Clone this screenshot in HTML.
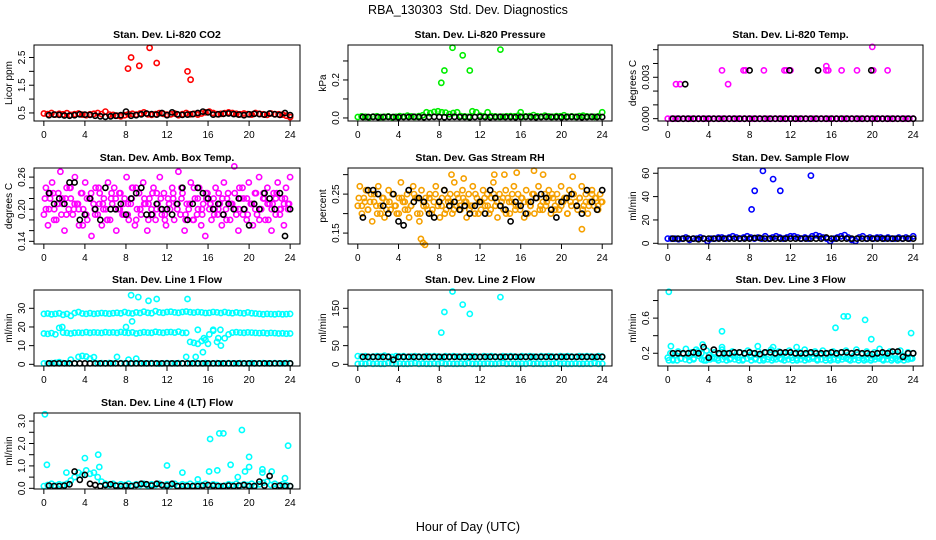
<!DOCTYPE html>
<html><head><meta charset="utf-8">
<style>
html,body{margin:0;padding:0;background:#fff;}
svg{display:block;font-family:"Liberation Sans",Arial,sans-serif;}
</style></head>
<body>
<svg id="chart" width="936" height="540" viewBox="0 0 936 540" xmlns="http://www.w3.org/2000/svg">
<rect x="0" y="0" width="936" height="540" fill="#fff"/>
<text x="468" y="14" font-size="12.5" text-anchor="middle">RBA_130303&#160; Std. Dev. Diagnostics</text>
<text x="468" y="531" font-size="12.5" text-anchor="middle">Hour of Day (UTC)</text>
</svg>
<script>
// ---------- data ----------
const xTicks = [0,4,8,12,16,20,24];

const co2Red = [0.48,0.46,0.5,0.44,0.47,0.45,0.49,0.43,0.46,0.48,0.44,0.42,0.45,0.47,0.5,0.46,0.55,0.44,0.43,0.4,0.38,0.42,0.45,0.47,0.44,0.48,0.52,0.45,0.43,0.46,0.49,0.47,0.44,0.45,0.48,0.42,0.46,0.5,0.45,0.47,0.44,0.48,0.52,0.55,0.5,0.46,0.47,0.49,0.52,0.5,0.47,0.45,0.48,0.46,0.44,0.5,0.47,0.45,0.43,0.48,0.46,0.45,0.44,0.4,0.35];
const co2RedOutX = [8.2,8.5,9.3,10.3,11,14,14.3];
const co2RedOutY = [2.1,2.5,2.2,2.85,2.3,2.0,1.7];
const co2Black = [0.42,0.44,0.43,0.41,0.4,0.42,0.45,0.44,0.43,0.4,0.38,0.36,0.38,0.4,0.42,0.55,0.4,0.42,0.45,0.48,0.46,0.44,0.5,0.42,0.52,0.45,0.43,0.44,0.46,0.5,0.55,0.52,0.44,0.45,0.47,0.48,0.46,0.44,0.42,0.45,0.47,0.46,0.44,0.48,0.45,0.43,0.5,0.42];

const presGreen = [0.005,0.008,0.006,0.004,0.007,0.009,0.005,0.006,0.008,0.004,0.006,0.01,0.007,0.012,0.008,0.006,0.01,0.014,0.03,0.025,0.032,0.035,0.03,0.028,0.02,0.026,0.03,0.01,0.008,0.006,0.035,0.03,0.012,0.009,0.03,0.01,0.008,0.006,0.007,0.009,0.01,0.008,0.012,0.006,0.008,0.01,0.015,0.009,0.007,0.012,0.008,0.006,0.01,0.009,0.014,0.007,0.008,0.006,0.01,0.012,0.008,0.007,0.006,0.009,0.03];
const presOutX = [8.2,8.5,9.3,10.3,11,14,16];
const presOutY = [0.185,0.25,0.37,0.33,0.25,0.36,0.03];
const presBlack = [0.005,0.005,0.006,0.004,0.005,0.006,0.005,0.004,0.005,0.005,0.006,0.005,0.004,0.005,0.006,0.005,0.004,0.005,0.006,0.005,0.005,0.004,0.005,0.006,0.005,0.004,0.005,0.006,0.005,0.005,0.004,0.005,0.006,0.005,0.004,0.005,0.006,0.005,0.005,0.004,0.005,0.006,0.005,0.004,0.005,0.006,0.005,0.005];

const tempMag = [0,0,0,0,0,0,0,0,0,0,0,0,0,0,0,0,0,0,0,0,0,0,0,0,0,0,0,0,0,0,0,0,0,0,0,0,0,0,0,0,0,0,0,0,0,0,0,0,0,0,0,0,0,0,0,0,0,0,0,0,0,0,0,0,0];
const tempOutX = [0.8,1.2,5.3,5.9,7.4,7.6,9.4,11.4,11.6,12,15.5,15.5,15.7,17,18.5,20,20.1,21.5];
const tempOutY = [0.0025,0.0025,0.0035,0.0025,0.0035,0.0035,0.0035,0.0035,0.0035,0.0035,0.0035,0.0038,0.0035,0.0035,0.0035,0.0052,0.0035,0.0035];
const tempBlack = [0,0,0,0,0,0,0,0,0,0,0,0,0,0,0,0,0,0,0,0,0,0,0,0,0,0,0,0,0,0,0,0,0,0,0,0,0,0,0,0,0,0,0,0,0,0,0,0];
const tempBlackOutX = [1.7,8,11.9,14.7,19.9];
const tempBlackOutY = [0.0025,0.0035,0.0035,0.0035,0.0035];

const ambMag = [0.19,0.24,0.17,0.22,0.25,0.2,0.18,0.23,0.27,0.21,0.16,0.24,0.2,0.22,0.19,0.26,0.21,0.17,0.23,0.2,0.25,0.18,0.22,0.15,0.21,0.24,0.19,0.23,0.17,0.22,0.2,0.25,0.18,0.21,0.24,0.16,0.2,0.23,0.19,0.22,0.26,0.18,0.21,0.24,0.17,0.2,0.23,0.19,0.25,0.21,0.16,0.22,0.2,0.24,0.18,0.21,0.26,0.19,0.23,0.17,0.22,0.2,0.24,0.18,0.21,0.27,0.19,0.23,0.16,0.21,0.2,0.25,0.18,0.22,0.19,0.24,0.17,0.21,0.15,0.23,0.2,0.18,0.22,0.24,0.19,0.21,0.17,0.25,0.2,0.23,0.18,0.21,0.28,0.19,0.16,0.22,0.24,0.2,0.18,0.25,0.21,0.17,0.23,0.19,0.26,0.2,0.22,0.18,0.24,0.21,0.16,0.23,0.19,0.25,0.2,0.22,0.17,0.24,0.21,0.26];
const ambMag2 = [0.22,0.2,0.23,0.21,0.19,0.22,0.24,0.2,0.21,0.23,0.19,0.22,0.2,0.24,0.21,0.18,0.22,0.2,0.23,0.21,0.19,0.22,0.24,0.2,0.21,0.18,0.23,0.2,0.22,0.19,0.21,0.23,0.2,0.22,0.18,0.21,0.24,0.2,0.19,0.22,0.21,0.2,0.23,0.19,0.22,0.21,0.2,0.24,0.22,0.19,0.21,0.23,0.2,0.22,0.18,0.21,0.23,0.2,0.22,0.21];
const ambMag3 = [0.2,0.23,0.18,0.21,0.22,0.19,0.24,0.21,0.2,0.17,0.22,0.23,0.19,0.21,0.2,0.18,0.23,0.22,0.2,0.19,0.21,0.24,0.18,0.2,0.22,0.21,0.19,0.23,0.2,0.18,0.21,0.22,0.2,0.24,0.19,0.21,0.18,0.22,0.2,0.23,0.21,0.19,0.2,0.22,0.18,0.21,0.23,0.2,0.19,0.22,0.21,0.2,0.18,0.23,0.21,0.2,0.22,0.19,0.21,0.2];
const ambBlack = [0.23,0.21,0.22,0.21,0.25,0.25,0.18,0.19,0.22,0.2,0.18,0.24,0.2,0.2,0.21,0.19,0.22,0.23,0.24,0.19,0.19,0.21,0.2,0.2,0.19,0.21,0.24,0.18,0.21,0.24,0.23,0.22,0.2,0.21,0.19,0.21,0.2,0.22,0.2,0.17,0.21,0.2,0.23,0.22,0.2,0.23,0.15,0.2];

const rhOr = [0.22,0.27,0.2,0.24,0.26,0.21,0.23,0.18,0.25,0.22,0.27,0.2,0.24,0.19,0.23,0.26,0.21,0.25,0.22,0.2,0.24,0.28,0.23,0.21,0.25,0.19,0.22,0.27,0.24,0.2,0.18,0.26,0.22,0.24,0.21,0.25,0.2,0.23,0.27,0.22,0.19,0.24,0.26,0.21,0.23,0.25,0.2,0.28,0.22,0.24,0.21,0.26,0.23,0.19,0.25,0.22,0.27,0.2,0.24,0.23,0.21,0.26,0.22,0.25,0.2,0.24,0.28,0.22,0.19,0.25,0.23,0.21,0.26,0.24,0.2,0.23,0.27,0.22,0.25,0.21,0.24,0.19,0.26,0.23,0.22,0.25,0.2,0.24,0.27,0.22,0.21,0.25,0.23,0.26,0.2,0.24,0.22,0.25,0.21,0.27,0.23,0.24,0.2,0.26,0.22,0.25,0.23,0.21,0.24,0.27,0.22,0.25,0.2,0.23,0.26,0.22,0.24,0.21,0.25,0.23];
const rhOr2 = [0.24,0.22,0.23,0.21,0.25,0.23,0.2,0.22,0.24,0.21,0.23,0.25,0.22,0.2,0.24,0.23,0.21,0.22,0.25,0.24,0.2,0.23,0.22,0.24,0.21,0.25,0.23,0.22,0.2,0.24,0.23,0.21,0.25,0.22,0.24,0.23,0.21,0.22,0.25,0.2,0.23,0.24,0.22,0.21,0.25,0.23,0.22,0.24,0.2,0.23,0.25,0.21,0.22,0.24,0.23,0.2,0.22,0.25,0.24,0.21,0.23,0.22,0.24,0.25,0.21,0.23,0.22,0.24,0.2,0.23,0.25,0.22,0.24,0.21,0.23,0.22,0.25,0.24,0.22,0.23];
const rhOutX = [6.2,6.4,6.6,9.2,10.4,13.4,14.4,15.6,17.3,18.2,21.1,22];
const rhOutY = [0.135,0.125,0.12,0.3,0.29,0.3,0.3,0.305,0.31,0.3,0.295,0.16];
const rhBlack = [0.19,0.26,0.26,0.25,0.22,0.2,0.25,0.18,0.17,0.26,0.23,0.24,0.23,0.2,0.19,0.23,0.26,0.22,0.23,0.21,0.22,0.2,0.22,0.23,0.2,0.26,0.24,0.22,0.21,0.18,0.23,0.22,0.2,0.23,0.24,0.25,0.24,0.21,0.19,0.23,0.24,0.25,0.22,0.2,0.26,0.23,0.21,0.26];

const sfBlue = [4,4,4,3.5,4,5,3,4,4,5,4,2,4,4,5,5,4,5,6,5,4,5,6,5,4,5,4,6,4,5,6,5,4,5,6,6,5,4,5,4,6,7,6,5,4,2,4,5,6,7,5,3,2,5,6,4,5,4,5,5,4,5,4,4,5,4,5,4,6];
const sfOutX = [8.2,8.5,9.3,10.3,11,14];
const sfOutY = [29,45,62,55,45,58];
const sfBlack = [4,4,4,4,4,3.5,4,4,4,4,4,4,4,4,4,4,4.5,4.5,4,4,4,4,4,4,4,4,4,4,4,4,5,4,4,4,4,4,4,4,4,4,4,4,4,4,4,4,4,4];

const l1Top = [27,27.2,26.8,27,27.3,26.5,27,26,27.5,28,27.2,27,27.4,27,27.2,27.5,27.3,27.1,27.4,27.6,27.3,28,27.5,27.2,27.8,27.5,28.2,27.6,27.4,28.5,27.8,27.6,28,28.2,27.8,27.6,28,28.3,27.9,27.7,28,27.8,27.5,27.6,28,27.8,27.5,28,27.6,27.4,27.8,27.5,27.3,27.8,27.4,27.2,27,26.8,27,26.9,26.8,27,26.8,26.9,27];
const l1Mid = [16.5,16.3,16.7,16,19.5,17,16.8,16.5,16.9,17,16.8,17.2,16.9,17.1,17,16.8,17.2,17,17.1,16.9,17.3,17,16.8,17.1,16.5,16.8,17.2,17,16.9,17.4,17.1,16.9,17.2,17.3,17,17.5,16.8,16.9,12,11.5,11,12.5,13,16,18,12,10,14,16,17,17.2,17,16.9,17.1,17,16.8,16.7,16.9,16.6,16.8,16.7,16.5,16.6,16.4,16.5];
const l1Low = [0.5,0.5,0.6,0.8,1.2,0.6,0.5,2.5,0.6,4,4.5,4.2,3,3.8,0.5,0.6,0.5,0.7,0.5,4,0.6,0.5,2.5,0.5,3,0.6,0.5,0.5,0.6,0.5,0.4,0.5,0.6,0.5,0.5,0.6,0.5,4,0.5,0.6,0.5,0.5,0.6,0.5,0.5,0.6,0.5,0.5,0.6,0.5,0.5,0.6,0.5,0.5,0.6,0.5,0.5,0.6,0.5,0.5,0.6,0.5,0.5,0.6,0.5];
const l1OutX = [8.5,9.2,10.2,11,14,8,8.6,1.8,15,15.5,16,16.5,17,17.2,14.8,15.6];
const l1OutY = [37,36,34,35,35,20,23,20,18.5,6.5,11,18.5,14,18.5,4,14];
const l1Black = [0.5,0.5,0.5,0.5,0.5,0.5,0.5,0.5,0.5,0.5,0.5,0.5,0.5,0.5,0.5,0.5,0.5,0.5,0.5,0.5,0.5,0.5,0.5,0.5,0.5,0.5,0.5,0.5,0.5,0.5,0.5,0.5,0.5,0.5,0.5,0.5,0.5,0.5,0.5,0.5,0.5,0.5,0.5,0.5,0.5,0.5,0.5,0.5];

const l2Low = [1,2,1,3,1,2,1,1,3,2,1,2,1,1,2,3,1,2,1,1,2,1,3,1,2,1,1,2,1,3,1,1,2,1,2,1,1,2,3,1,2,1,1,2,1,3,1,2,1,1,2,1,3,1,2,1,1,2,1,1,2,1,3,1,2];
const l2High = [22,21,22,20,21,22,21,23,21,20,22,21,22,20,21,22,21,20,22,21,22,21,20,22,21,22,21,20,22,21,22,21,20,22,21,22,21,20,22,21,22,21,20,22,21,22,21,20,22,21,22,21,20,22,21,22,21,20,22,21,22,21,20,22,21];
const l2OutX = [8.2,8.5,9.3,10.3,11,14];
const l2OutY = [85,140,195,160,135,180];
const l2Black = [20,20,20,20,20,20,12,20,20,20,20,20,20,20,20,20,20,20,20,20,20,20,20,20,20,20,20,20,20,20,20,20,20,20,20,20,20,20,20,20,20,20,20,20,20,20,20,20];

const l3Cyan = [0.15,0.2,0.12,0.18,0.22,0.14,0.19,0.25,0.16,0.21,0.13,0.24,0.17,0.2,0.12,0.23,0.18,0.15,0.21,0.14,0.19,0.24,0.16,0.2,0.13,0.22,0.17,0.15,0.21,0.12,0.19,0.23,0.16,0.2,0.14,0.22,0.18,0.12,0.21,0.16,0.24,0.14,0.19,0.22,0.13,0.2,0.17,0.23,0.15,0.19,0.12,0.21,0.17,0.24,0.14,0.2,0.16,0.22,0.13,0.19,0.23,0.15,0.2,0.12,0.22,0.18,0.14,0.21,0.16,0.23,0.13,0.2,0.17,0.24,0.15,0.19,0.12,0.22,0.18,0.14,0.21,0.16,0.25,0.13,0.2,0.17,0.22,0.14,0.19,0.12,0.23,0.17,0.15,0.21,0.14,0.2];
const l3Cyan2 = [0.12,0.13,0.12,0.14,0.13,0.12,0.14,0.22,0.13,0.12,0.13,0.14,0.12,0.13,0.12,0.14,0.13,0.12,0.13,0.14,0.12,0.13,0.12,0.14,0.13,0.12,0.13,0.14,0.12,0.13,0.12,0.14,0.13,0.12,0.13,0.14,0.12,0.13,0.12,0.14,0.13,0.12,0.13,0.14,0.12,0.13,0.12,0.14,0.13,0.12,0.13,0.14,0.12,0.13,0.12,0.14,0.13,0.12,0.13,0.14];
const l3OutX = [0.1,0.3,3.4,5.3,5.3,8.8,10.3,12.6,16.4,17.2,17.6,19.3,19.9,23.8];
const l3OutY = [0.9,0.28,0.3,0.45,0.27,0.28,0.27,0.27,0.49,0.62,0.62,0.58,0.36,0.43];
const l3Black = [0.2,0.2,0.2,0.2,0.21,0.2,0.27,0.15,0.24,0.2,0.2,0.2,0.21,0.21,0.2,0.21,0.2,0.19,0.21,0.21,0.2,0.21,0.21,0.21,0.2,0.2,0.2,0.21,0.2,0.2,0.2,0.21,0.2,0.21,0.21,0.2,0.21,0.2,0.2,0.19,0.2,0.21,0.2,0.22,0.22,0.16,0.2,0.2];

const l4Cyan = [0.1,0.15,0.2,0.12,0.18,0.15,0.2,0.35,0.5,0.7,0.6,0.8,0.65,0.7,0.5,0.3,0.2,0.15,0.2,0.12,0.18,0.15,0.2,0.12,0.18,0.15,0.2,0.12,0.18,0.15,0.2,0.12,0.18,0.15,0.2,0.12,0.18,0.15,0.2,0.12,0.18,0.15,0.2,0.12,0.18,0.15,0.1,0.12,0.18,0.15,0.2,0.12,0.18,0.15,0.2,0.12,0.18,0.25,0.3,0.15,0.2,0.12,0.18,0.15,0.1];
const l4OutX = [0.1,0.3,2.2,4,5.3,5.4,12,13.5,15,16.1,16.2,16.9,17.1,17.5,18.2,18.9,19.3,19.6,20,20,21.3,21.3,22.2,23.5,23.8];
const l4OutY = [3.3,1.05,0.7,1.35,1.5,0.95,1.02,0.7,0.4,0.75,2.2,0.8,2.45,2.45,1.05,0.5,2.6,0.75,1.4,0.95,0.85,0.7,0.75,0.45,1.9];
const l4Black = [0.12,0.1,0.1,0.12,0.18,0.75,0.38,0.6,0.2,0.15,0.1,0.15,0.18,0.12,0.1,0.12,0.1,0.15,0.2,0.18,0.12,0.2,0.15,0.12,0.2,0.1,0.1,0.1,0.1,0.1,0.12,0.15,0.12,0.1,0.1,0.12,0.1,0.12,0.15,0.1,0.1,0.3,0.12,0.55,0.1,0.12,0.1,0.1];

// ---------- layout ----------
const colX = [[34,300],[348,612],[658,923]];
const rowY = [45,168,290,413];
const PH = 76;

const NS = "http://www.w3.org/2000/svg";
const svg = document.getElementById('chart');
function mk(tag, attrs, parent){ const e=document.createElementNS(NS,tag); for(const k in attrs) e.setAttribute(k,attrs[k]); (parent||svg).appendChild(e); return e; }

const BLUE="#0000ff", BLACK="#000000";
const panels = [
 {name:"co2", title:"Stan. Dev. Li-820 CO2", ylab:"Licor ppm", c:0,r:0, ylim:[0.21,2.95], ticks:[0.5,1,1.5,2,2.5], labels:[[0.5,"0.5"],[1.5,"1.5"],[2.5,"2.5"]],
  series:[{v:co2Red,col:"#ff0000"},{x:co2RedOutX,v:co2RedOutY,col:"#ff0000"},{v:co2Black,col:BLACK,black:true}]},
 {name:"pressure", title:"Stan. Dev. Li-820 Pressure", ylab:"kPa", c:1,r:0, ylim:[-0.016,0.384], ticks:[0,0.1,0.2,0.3], labels:[[0,"0.0"],[0.2,"0.2"]],
  series:[{v:presGreen,col:"#00ee00"},{x:presOutX,v:presOutY,col:"#00ee00"},{v:presBlack,col:BLACK,black:true}]},
 {name:"li820-temp", title:"Stan. Dev. Li-820 Temp.", ylab:"degrees C", c:2,r:0, ylim:[-0.00017,0.00534], ticks:[0,0.001,0.002,0.003,0.004,0.005], labels:[[0,"0.000"],[0.003,"0.003"]],
  series:[{v:tempMag,col:"#ff00ff"},{x:tempOutX,v:tempOutY,col:"#ff00ff"},{v:tempBlack,col:BLACK,black:true},{x:tempBlackOutX,v:tempBlackOutY,col:BLACK}]},
 {name:"amb-box-temp", title:"Stan. Dev. Amb. Box Temp.", ylab:"degrees C", c:0,r:1, ylim:[0.135,0.277], ticks:[0.14,0.16,0.18,0.2,0.22,0.24,0.26], labels:[[0.14,"0.14"],[0.2,"0.20"],[0.26,"0.26"]],
  series:[{v:ambMag,col:"#ff00ff"},{v:ambMag2,col:"#ff00ff",x0:0.1},{v:ambMag3,col:"#ff00ff",x0:0.2},{v:ambBlack,col:BLACK,black:true}]},
 {name:"gas-rh", title:"Stan. Dev. Gas Stream RH", ylab:"percent", c:1,r:1, ylim:[0.122,0.317], ticks:[0.15,0.2,0.25,0.3], labels:[[0.15,"0.15"],[0.25,"0.25"]],
  series:[{v:rhOr,col:"#f5a000"},{v:rhOr2,col:"#f5a000",x0:0.1},{x:rhOutX,v:rhOutY,col:"#f5a000"},{v:rhBlack,col:BLACK,black:true}]},
 {name:"sample-flow", title:"Stan. Dev. Sample Flow", ylab:"ml/min", c:2,r:1, ylim:[-0.6,64.5], ticks:[0,20,40,60], labels:[[0,"0"],[20,"20"],[40,"40"],[60,"60"]],
  series:[{v:sfBlue,col:BLUE},{x:sfOutX,v:sfOutY,col:BLUE},{v:sfBlack,col:BLACK,black:true}]},
 {name:"line1-flow", title:"Stan. Dev. Line 1 Flow", ylab:"ml/min", c:0,r:2, ylim:[-0.9,39.8], ticks:[0,10,20,30], labels:[[0,"0"],[10,"10"],[20,"20"],[30,"30"]],
  series:[{v:l1Top,col:"#00ffff"},{v:l1Mid,col:"#00ffff"},{v:l1Low,col:"#00ffff"},{x:l1OutX,v:l1OutY,col:"#00ffff"},{v:l1Black,col:BLACK,black:true}]},
 {name:"line2-flow", title:"Stan. Dev. Line 2 Flow", ylab:"ml/min", c:1,r:2, ylim:[-4.5,199], ticks:[0,50,100,150], labels:[[0,"0"],[50,"50"],[150,"150"]],
  series:[{v:l2Low,col:"#00ffff"},{v:l2High,col:"#00ffff"},{x:l2OutX,v:l2OutY,col:"#00ffff"},{v:l2Black,col:BLACK,black:true}]},
 {name:"line3-flow", title:"Stan. Dev. Line 3 Flow", ylab:"ml/min", c:2,r:2, ylim:[0.055,0.92], ticks:[0.2,0.4,0.6,0.8], labels:[[0.2,"0.2"],[0.6,"0.6"]],
  series:[{v:l3Cyan,col:"#00ffff"},{v:l3Cyan2,col:"#00ffff",x0:0.1},{x:l3OutX,v:l3OutY,col:"#00ffff"},{v:l3Black,col:BLACK,black:true}]},
 {name:"line4-flow", title:"Stan. Dev. Line 4 (LT) Flow", ylab:"ml/min", c:0,r:3, ylim:[-0.03,3.36], ticks:[0,0.5,1,1.5,2,2.5,3], labels:[[0,"0.0"],[1,"1.0"],[2,"2.0"],[3,"3.0"]],
  series:[{v:l4Cyan,col:"#00ffff"},{x:l4OutX,v:l4OutY,col:"#00ffff"},{v:l4Black,col:BLACK,black:true}]}
];

panels.forEach(p=>{
  const L=colX[p.c][0], R=colX[p.c][1], T=rowY[p.r], B=T+PH;
  const xs = h => L + (h+0.96)/25.92*(R-L);
  const ys = v => B - (v-p.ylim[0])/(p.ylim[1]-p.ylim[0])*(B-T);
  const g = mk('g',{});
  
  
  const t = mk('text',{x:(L+R)/2,y:T-7,'font-size':10.5,'font-weight':'bold','text-anchor':'middle'},g);
  t.textContent=p.title;
  
  
  const pg = mk('g',{fill:'none','stroke-width':1.6},g);
  
  
  p.series.forEach(s=>{
    const n=s.v.length;
    const a = s.black?0.5:(s.x0||0), b = s.black?24:(s.x0?24-s.x0:24);
    s.v.forEach((v,i)=>{
      const h = s.x ? s.x[i] : a + i*(b-a)/(n-1);
      const c = mk('circle',{cx:xs(h).toFixed(1),cy:ys(v).toFixed(1),r:2.6,stroke:s.col},pg);
      
      
    });
  });
  const bx = mk('rect',{x:L,y:T,width:R-L,height:B-T,fill:'none',stroke:'#000','stroke-width':1},g);
  
  
  const xa = mk('g',{},g);
  
  
  mk('line',{x1:xs(xTicks[0]),x2:xs(xTicks[xTicks.length-1]),y1:B,y2:B,stroke:'#000'},xa);
  xTicks.forEach(h=>{
    mk('line',{x1:xs(h),x2:xs(h),y1:B,y2:B+5,stroke:'#000'},xa);
    const tl=mk('text',{x:xs(h),y:B+17,'font-size':10,'text-anchor':'middle'},xa);
    tl.textContent=h;
  });
  const ya = mk('g',{},g);
  
  
  mk('line',{x1:L,x2:L,y1:ys(p.ticks[0]),y2:ys(p.ticks[p.ticks.length-1]),stroke:'#000'},ya);
  p.ticks.forEach(v=>mk('line',{x1:L-5,x2:L,y1:ys(v),y2:ys(v),stroke:'#000'},ya));
  p.labels.forEach(([v,s])=>{
    const tl=mk('text',{x:0,y:0,'font-size':10,'text-anchor':'middle',transform:`translate(${L-9},${ys(v)}) rotate(-90)`},ya);
    tl.textContent=s;
  });
  const yl=mk('text',{x:0,y:0,'font-size':10,'text-anchor':'middle',transform:`translate(${L-22},${(T+B)/2}) rotate(-90)`},g);
  yl.textContent=p.ylab;
  
  
});
</script>
</body></html>
